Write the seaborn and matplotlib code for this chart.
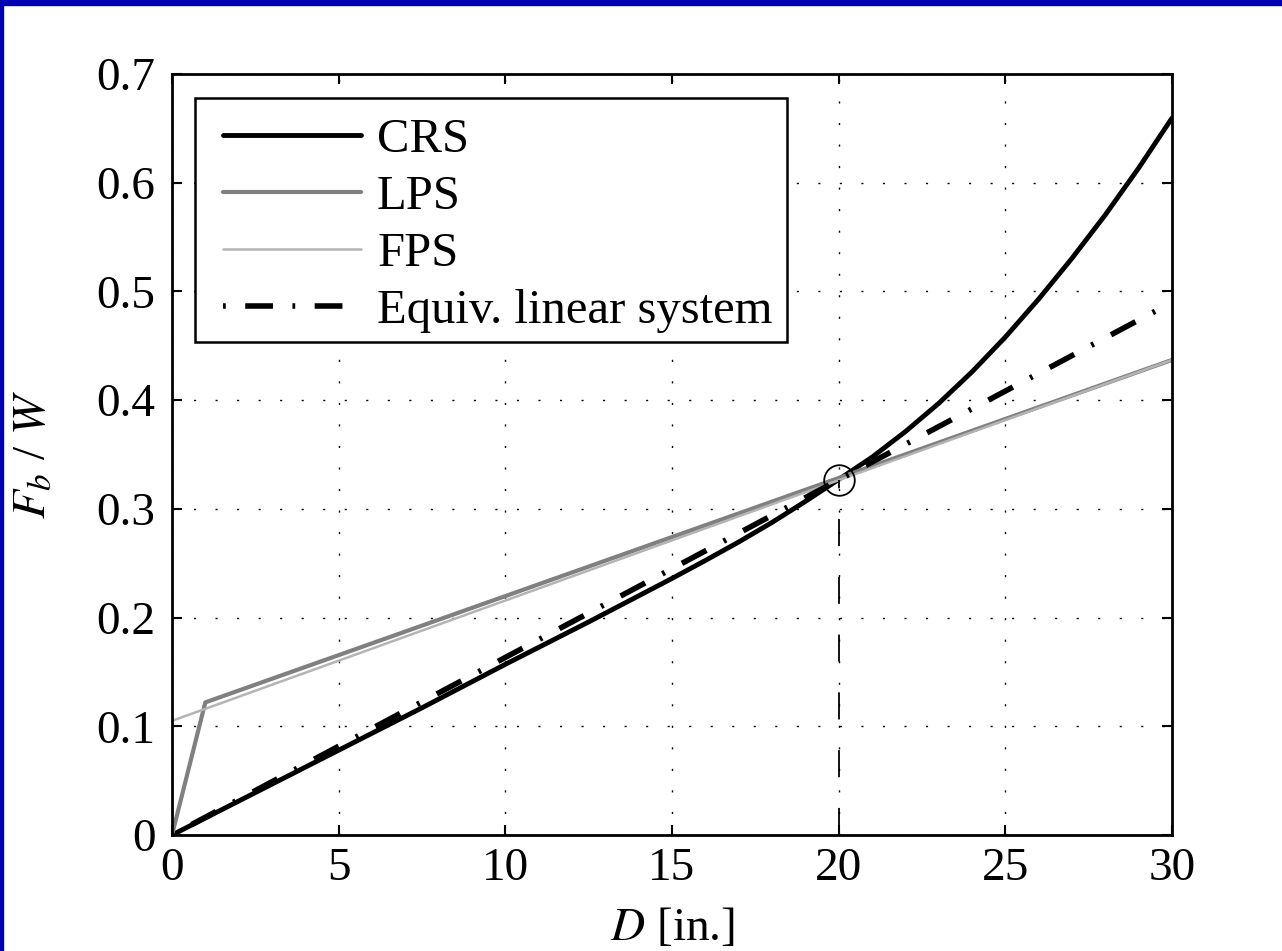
import numpy as np
import pandas as pd
import matplotlib
matplotlib.use("Agg")
import matplotlib.pyplot as plt
from matplotlib.patches import Rectangle
import seaborn as sns

# ---------------- data ----------------
crs_d = [0, 2.5, 5, 7.5, 10, 12.5, 15, 16, 17, 18, 19, 20, 21, 22, 23, 24, 25,
         26, 27, 28, 29, 30]
crs_f = [0, 0.039, 0.078, 0.117, 0.157, 0.196, 0.236, 0.2525, 0.2695, 0.2875,
         0.3068, 0.327, 0.3475, 0.371, 0.397, 0.426, 0.458, 0.493, 0.5305,
         0.5705, 0.6135, 0.6595]

lps_d = [0, 1, 30]
lps_f = [0, 0.122, 0.437]

fps_d = [0, 0, 30]
fps_f = [0, 0.105, 0.437]

eq_d = [0, 30]
eq_f = [0, 0.49]

design_d = 20
design_f = 0.327

series_labels = ["CRS", "LPS", "FPS", "Equiv. linear system"]
xticks = [0, 5, 10, 15, 20, 25, 30]
yticks = [0, 0.1, 0.2, 0.3, 0.4, 0.5, 0.6, 0.7]
yticklabels = ["0", "0.1", "0.2", "0.3", "0.4", "0.5", "0.6", "0.7"]

# ---------------- style ----------------
sns.set_theme(style="white")
plt.rcParams["font.family"] = ["Liberation Serif", "DejaVu Serif"]
plt.rcParams["mathtext.fontset"] = "stix"
plt.rcParams["text.color"] = "black"
plt.rcParams["axes.labelcolor"] = "black"
plt.rcParams["xtick.color"] = "black"
plt.rcParams["ytick.color"] = "black"

W, H = 1282, 951
fig = plt.figure(figsize=(W / 100, H / 100), dpi=100)
fig.patch.set_facecolor("white")
ax = fig.add_axes([172 / W, (H - 835) / H, 1000 / W, 761 / H])

# ---------------- lines ----------------
sns.lineplot(x=crs_d, y=crs_f, ax=ax, color="black", linewidth=3.5,
             estimator=None, sort=False)
sns.lineplot(x=lps_d, y=lps_f, ax=ax, color="#808080", linewidth=3.0,
             estimator=None, sort=False)
sns.lineplot(x=fps_d, y=fps_f, ax=ax, color="#b4b4b4", linewidth=1.8,
             estimator=None, sort=False)
sns.lineplot(x=eq_d, y=eq_f, ax=ax, color="black", linewidth=4.0,
             estimator=None, sort=False)
eq_line = ax.lines[-1]
eq_line.set_linestyle((0, (0.5, 3.5, 5.0, 3.5)))

sns.lineplot(x=[design_d, design_d], y=[0, design_f], ax=ax, color="black",
             linewidth=1.3, estimator=None, sort=False)
vline = ax.lines[-1]
vline.set_dashes((15, 17))

sns.lineplot(x=[design_d], y=[design_f], ax=ax, marker="o", markersize=22,
             markerfacecolor="none", markeredgecolor="black",
             markeredgewidth=1.3, linestyle="none", estimator=None)

# ---------------- axes ----------------
ax.set_xlim(0, 30)
ax.set_ylim(0, 0.7)
ax.set_xticks(xticks)
ax.set_xticklabels([str(t) for t in xticks])
ax.set_yticks(yticks)
ax.set_yticklabels(yticklabels)
ax.grid(True, color="black", linestyle=(0, (1.5, 14)), linewidth=1.0)
ax.set_axisbelow(True)
ax.tick_params(direction="in", length=7, width=1.5, top=True, right=True,
               bottom=True, left=True, labelsize=34, colors="black",
               labelcolor="black")
ax.tick_params(axis="y", pad=12)
ax.tick_params(axis="x", pad=9)
for s in ax.spines.values():
    s.set_visible(True)
    s.set_color("black")
    s.set_linewidth(2.0)

ax.set_xlabel("$D$ [in.]", fontsize=34, color="black", labelpad=12)
ax.set_ylabel("$F_b$ / $W$", fontsize=34, color="black", labelpad=30)

# legend frame drawn as a box, legend entries placed inside it
frame = Rectangle((0.023, 0.6478), 0.592, 0.3206, transform=ax.transAxes,
                  facecolor="white", edgecolor="black", linewidth=1.8,
                  zorder=4.9)
ax.add_patch(frame)

handles = ax.lines[0:4]
leg = ax.legend(handles, series_labels, loc="upper left",
                bbox_to_anchor=(0.051, 0.9427), borderaxespad=0,
                frameon=False, fontsize=35, handlelength=2.84,
                handletextpad=0.33, borderpad=0.0, labelspacing=0.27)
for t in leg.get_texts():
    t.set_color("black")

# blue screenshot border (left and top)
fig.patches.append(Rectangle((0, 0), 3 / W, 1, transform=fig.transFigure,
                             color="#0000b4", zorder=10))
fig.patches.append(Rectangle((0, 1 - 5 / H), 1, 5 / H, transform=fig.transFigure,
                             color="#0000b4", zorder=10))

fig.savefig("out.png", dpi=100)
